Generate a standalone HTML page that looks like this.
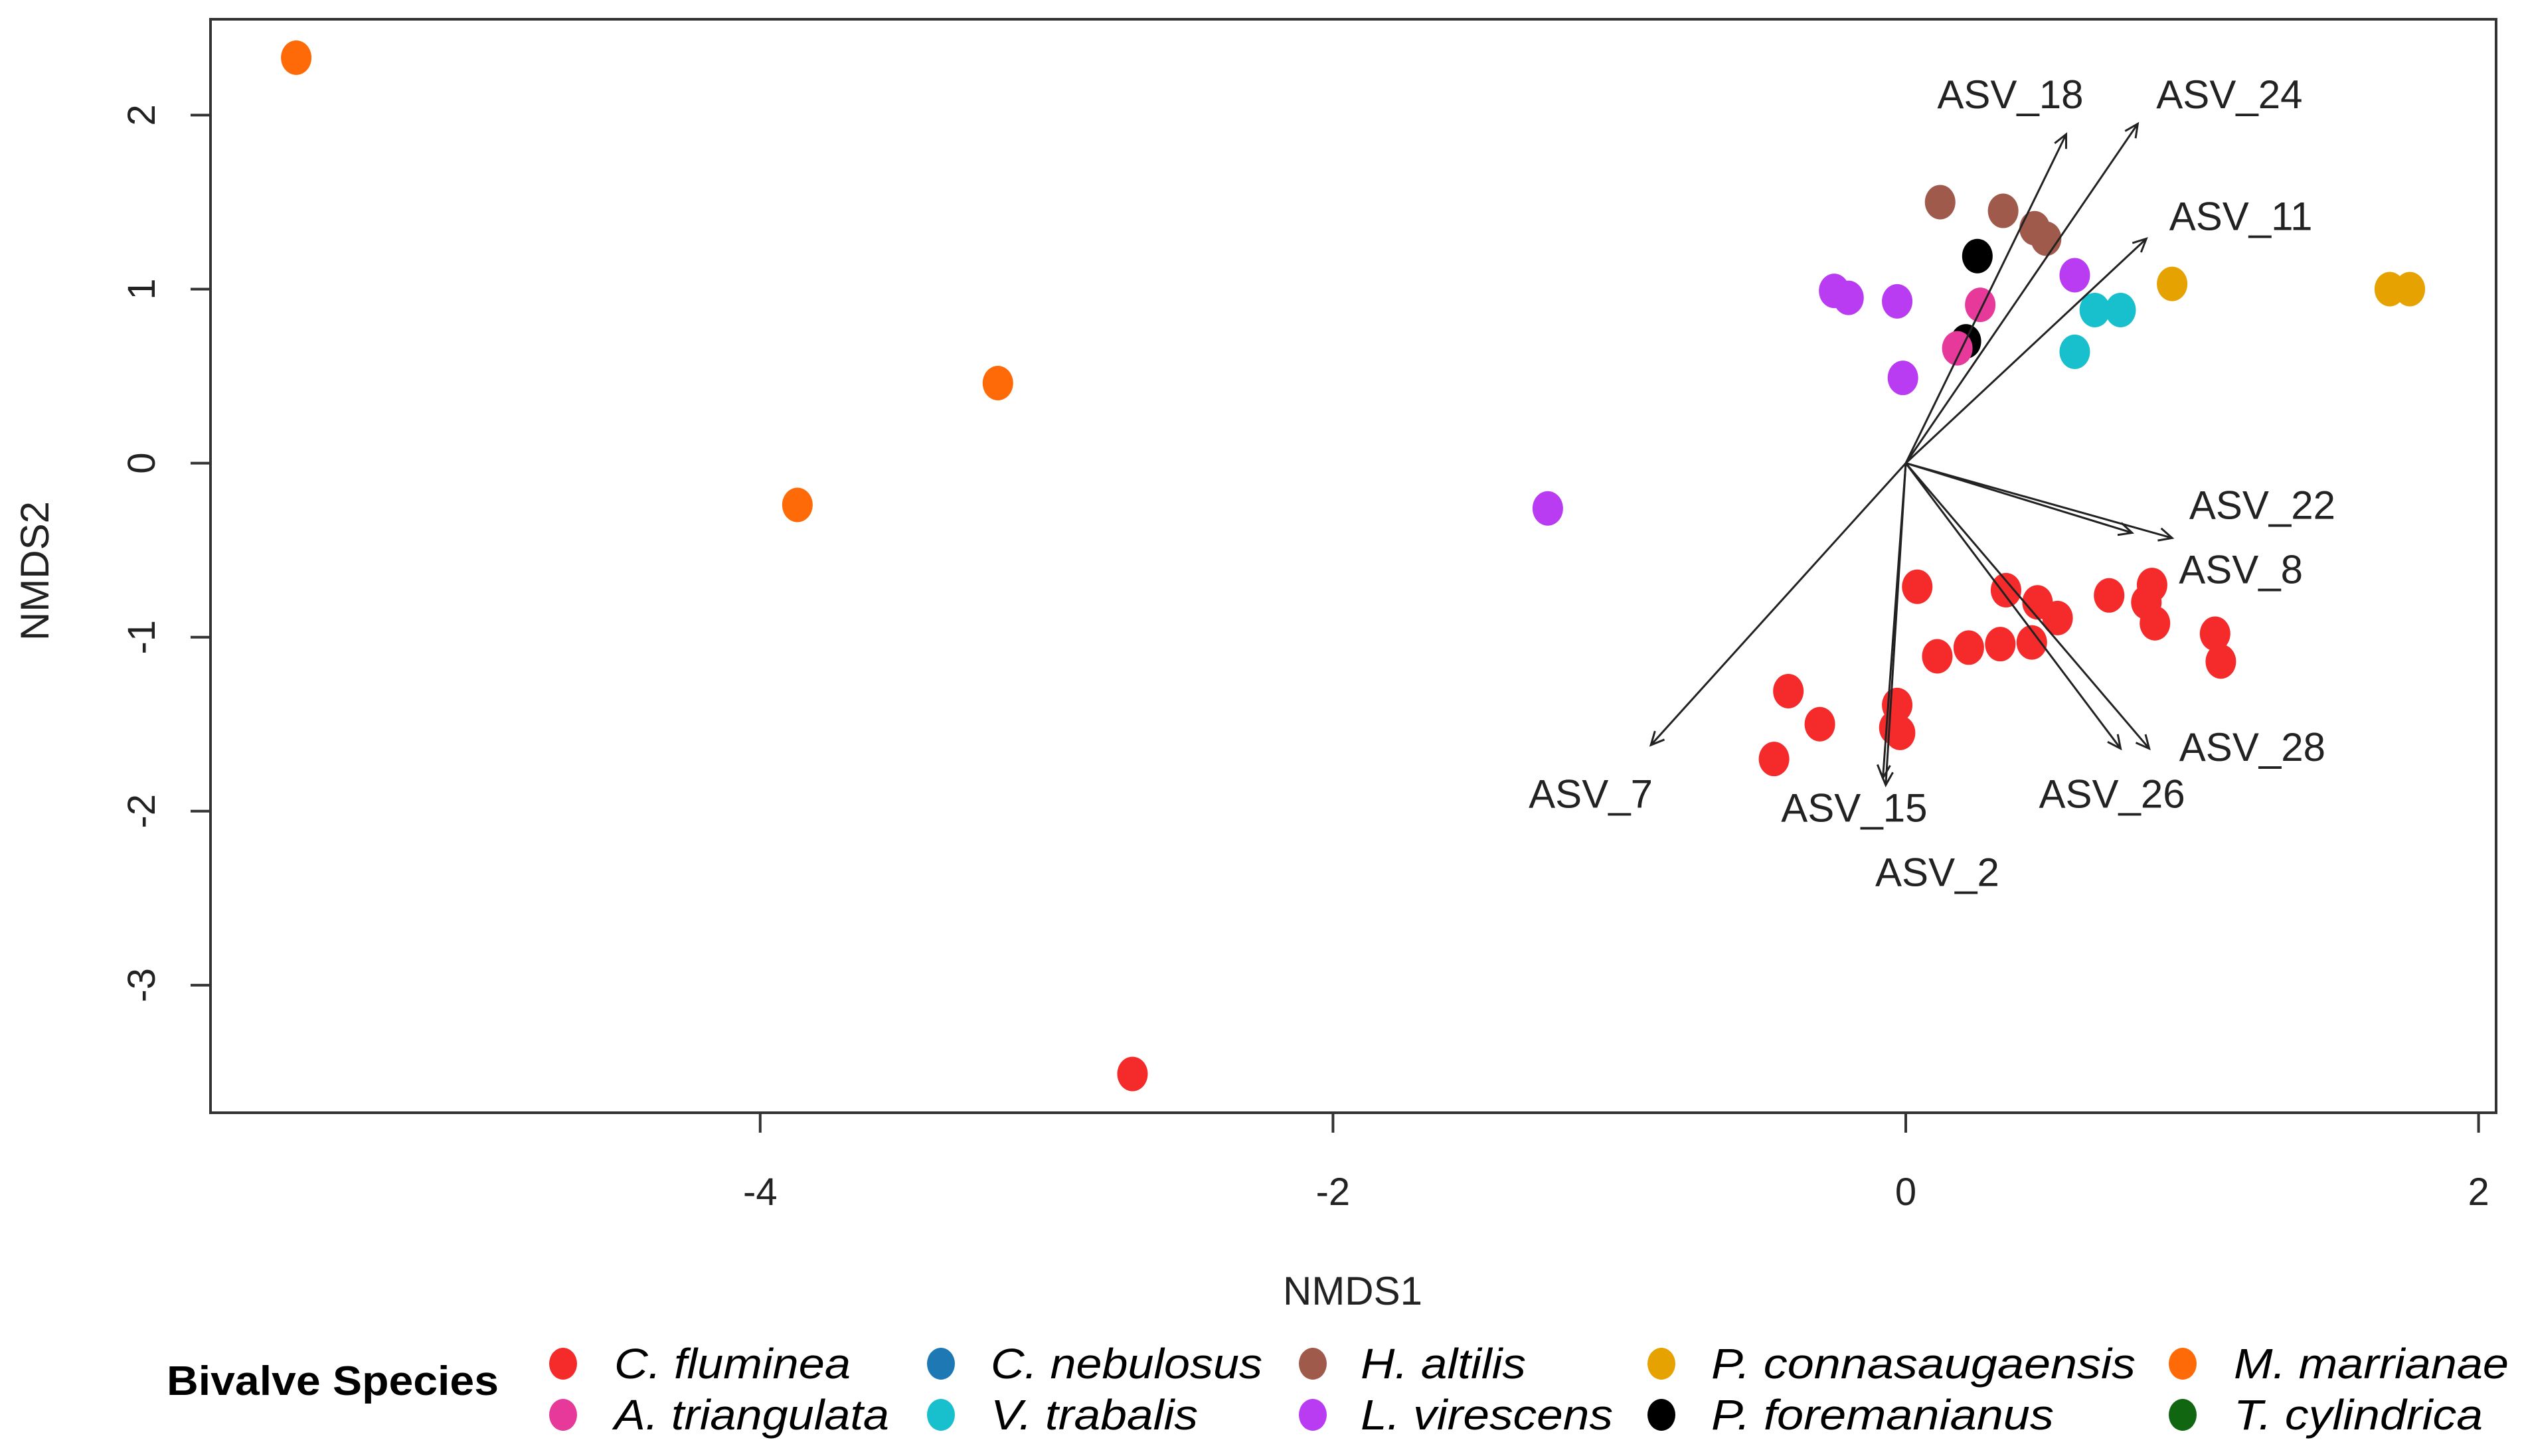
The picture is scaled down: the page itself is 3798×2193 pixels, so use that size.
<!DOCTYPE html>
<html><head><meta charset="utf-8"><style>html,body{margin:0;padding:0;background:#fff}svg{display:block}</style></head>
<body>
<svg id="chart" width="3798" height="2193" viewBox="0 0 3798 2193" xmlns="http://www.w3.org/2000/svg" font-family="Liberation Sans, sans-serif">
<rect x="0" y="0" width="3798" height="2193" fill="#fff"/>
<g id="plot"></g>
</svg>
<script>
const speciesNames = ["C. fluminea","C. nebulosus","H. altilis","P. connasaugaensis","M. marrianae","A. triangulata","V. trabalis","L. virescens","P. foremanianus","T. cylindrica"];
const speciesColors = ["#f52a2a","#1e78b4","#a05a4c","#e6a200","#ff6a08","#e6399a","#17c0cc","#b93cf2","#000000","#116611"];
const pointSpecies = ["M. marrianae","M. marrianae","M. marrianae","C. fluminea","L. virescens",
"H. altilis","H. altilis","H. altilis","H. altilis","P. foremanianus","P. foremanianus",
"L. virescens","L. virescens","L. virescens","L. virescens","L. virescens",
"A. triangulata","A. triangulata","V. trabalis","V. trabalis","V. trabalis",
"P. connasaugaensis","P. connasaugaensis","P. connasaugaensis",
"C. fluminea","C. fluminea","C. fluminea","C. fluminea","C. fluminea","C. fluminea","C. fluminea","C. fluminea","C. fluminea","C. fluminea",
"C. fluminea","C. fluminea","C. fluminea","C. fluminea","C. fluminea","C. fluminea","C. fluminea","C. fluminea","C. fluminea","C. fluminea"];
const pointX = [-5.62,-3.17,-3.87,-2.70,-1.25, 0.12,0.34,0.45,0.49, 0.25,0.21, -0.25,-0.20,-0.03,-0.01,0.59, 0.26,0.18, 0.66,0.75,0.59, 0.93,1.69,1.76,
0.04,0.35,0.46,0.53,0.71,0.86,0.84,0.87,1.08,1.10, 0.11,0.22,0.33,0.44, -0.41,-0.30,-0.46,-0.03,-0.04,-0.02];
const pointY = [2.33,0.46,-0.24,-3.51,-0.26, 1.50,1.45,1.35,1.29, 1.19,0.70, 0.99,0.95,0.93,0.49,1.08, 0.91,0.66, 0.88,0.88,0.64, 1.03,1.00,1.00,
-0.71,-0.73,-0.80,-0.89,-0.76,-0.70,-0.80,-0.92,-0.98,-1.14, -1.11,-1.06,-1.04,-1.03, -1.31,-1.50,-1.70,-1.39,-1.52,-1.55];
const vecNames = ["ASV_18","ASV_24","ASV_11","ASV_22","ASV_8","ASV_28","ASV_26","ASV_7","ASV_15","ASV_2"];
const vecX = [0.56,0.81,0.84,0.93,0.79,0.85,0.75,-0.89,-0.07,-0.08];
const vecY = [1.89,1.95,1.29,-0.43,-0.40,-1.64,-1.64,-1.62,-1.85,-1.81];
const vecLabelX = [0.365,1.13,1.17,1.245,1.17,1.21,0.72,-1.10,-0.18,0.11];
const vecLabelY = [2.12,2.12,1.42,-0.24,-0.61,-1.63,-1.90,-1.90,-1.98,-2.35];
const xTicks = [-4,-2,0,2];
const yTicks = [-3,-2,-1,0,1,2];

const X0=2870, XU=431.3, Y0=697.6, YU=262.1;
const sx = v => X0 + v*XU;
const sy = v => Y0 - v*YU;
const NS='http://www.w3.org/2000/svg';
const g=document.getElementById('plot');
function mk(tag, attrs, parent){const e=document.createElementNS(NS,tag);for(const k in attrs)e.setAttribute(k,attrs[k]);(parent||g).appendChild(e);return e;}

let fr=mk('rect',{x:317,y:29,width:3442,height:1647,fill:'none',stroke:'#333',"stroke-width":4});


xTicks.forEach(t=>{
  const l=mk('line',{x1:sx(t),x2:sx(t),y1:1676,y2:1706,stroke:'#333',"stroke-width":4});
  
  
  const tx=mk('text',{x:sx(t),y:1815,"text-anchor":'middle',"font-size":58,fill:'#222'});
  tx.textContent=t;
  
  
});
yTicks.forEach(t=>{
  const l=mk('line',{x1:287,x2:317,y1:sy(t),y2:sy(t),stroke:'#333',"stroke-width":4});
  
  
  const tx=mk('text',{x:0,y:0,"text-anchor":'middle',"font-size":58,fill:'#222',transform:`translate(233 ${sy(t)}) rotate(-90)`});
  tx.textContent=t;
  
  
});
let xt=mk('text',{x:2037,y:1965,"text-anchor":'middle',"font-size":60,fill:'#222'});
xt.textContent='NMDS1';


let yt=mk('text',{x:0,y:0,"text-anchor":'middle',"font-size":60,fill:'#222',transform:'translate(73 860) rotate(-90)'});
yt.textContent='NMDS2';



pointX.forEach((v,i)=>{
  const c=speciesColors[speciesNames.indexOf(pointSpecies[i])];
  const p=mk('ellipse',{cx:sx(v),cy:sy(pointY[i]),rx:23,ry:26,fill:c});
  
  
});
vecX.forEach((v,i)=>{
  const x1=sx(0),y1=sy(0),x2=sx(v),y2=sy(vecY[i]);
  const l=mk('line',{x1,y1,x2,y2,stroke:'#222',"stroke-width":3});
  
  
  const a=Math.atan2(y2-y1,x2-x1), h=22, s=0.45;
  const hp=mk('path',{d:`M${x2-h*Math.cos(a-s)} ${y2-h*Math.sin(a-s)} L${x2} ${y2} L${x2-h*Math.cos(a+s)} ${y2-h*Math.sin(a+s)}`,fill:'none',stroke:'#222',"stroke-width":3});
  
  
  const t=mk('text',{x:sx(vecLabelX[i]),y:sy(vecLabelY[i])+21,"text-anchor":'middle',"font-size":60,fill:'#222'});
  t.textContent=vecNames[i];
  
  
});

const legendOrder=["C. fluminea","C. nebulosus","H. altilis","P. connasaugaensis","M. marrianae","A. triangulata","V. trabalis","L. virescens","P. foremanianus","T. cylindrica"];
const legendWidths=[356,409,249,639,414,414,312,380,516,375];
const colX=[848,1417,1977,2502,3287], textX=[925,1492,2049,2577,3364], rowY=[2054,2131];
let lt=mk('text',{x:251,y:2101,"font-size":62,"font-weight":'bold',fill:'#000',textLength:500,lengthAdjust:'spacingAndGlyphs'});
lt.textContent='Bivalve Species';


legendOrder.forEach((n,i)=>{
  const r=Math.floor(i/5), c=i%5;
  const gg=mk('g',{});
  
  
  mk('ellipse',{cx:colX[c],cy:rowY[r],rx:21,ry:24,fill:speciesColors[speciesNames.indexOf(n)]},gg);
  const t=mk('text',{x:textX[c],y:rowY[r]+22,"font-size":64,"font-style":'italic',fill:'#000',textLength:legendWidths[i],lengthAdjust:'spacingAndGlyphs'},gg);
  t.textContent=n;
});
</script>
</body></html>
